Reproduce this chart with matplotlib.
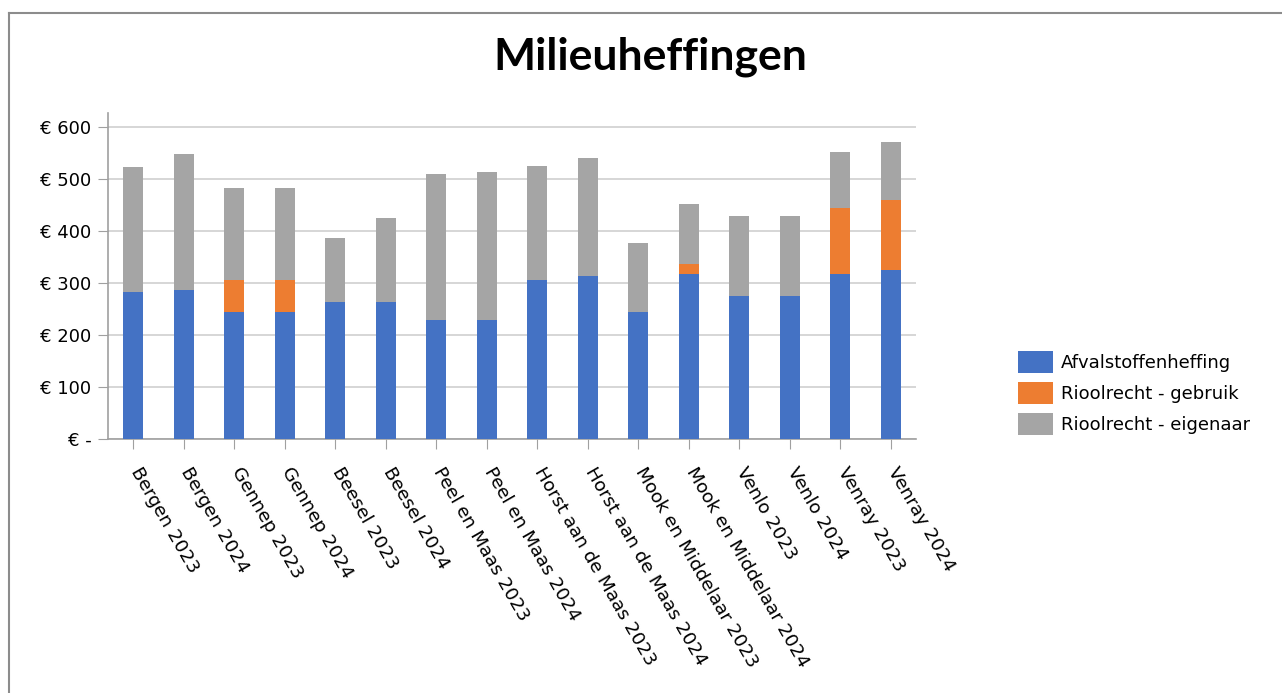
import matplotlib
matplotlib.use("Agg")
import matplotlib.pyplot as plt
import matplotlib.transforms as mtransforms
from matplotlib.lines import Line2D
import numpy as np

categories = [
    "Bergen 2023", "Bergen 2024", "Gennep 2023", "Gennep 2024",
    "Beesel 2023", "Beesel 2024", "Peel en Maas 2023", "Peel en Maas 2024",
    "Horst aan de Maas 2023", "Horst aan de Maas 2024",
    "Mook en Middelaar 2023", "Mook en Middelaar 2024",
    "Venlo 2023", "Venlo 2024", "Venray 2023", "Venray 2024",
]
afval = [282, 286, 244, 244, 263, 263, 229, 229, 305, 313, 244, 317, 274, 274, 317, 324]
riool_gebruik = [0, 0, 61, 61, 0, 0, 0, 0, 0, 0, 0, 19, 0, 0, 127, 135]
riool_eigenaar = [241, 261, 177, 177, 123, 161, 280, 284, 219, 226, 133, 115, 154, 154, 107, 111]
series_names = ["Afvalstoffenheffing", "Rioolrecht - gebruik", "Rioolrecht - eigenaar"]
colors = ["#4472C4", "#ED7D31", "#A5A5A5"]
yticks = [0, 100, 200, 300, 400, 500, 600]
ytick_labels = ["€ -", "€ 100", "€ 200", "€ 300", "€ 400", "€ 500", "€ 600"]

W, H = 1282, 693
fig = plt.figure(figsize=(W / 100, H / 100), dpi=100)
ax = fig.add_axes([108 / W, 1 - 439.3 / H, 808 / W, (439.3 - 113) / H])

x = np.arange(len(categories))
bottom = np.zeros(len(categories))
handles = []
for vals, name, c in zip([afval, riool_gebruik, riool_eigenaar], series_names, colors):
    b = ax.bar(x, vals, width=0.4, bottom=bottom, color=c, label=name, zorder=3)
    handles.append(b)
    bottom += np.array(vals)

ax.set_xlim(-0.5, len(categories) - 0.5)
ax.set_ylim(0, 626)
ax.set_yticks(yticks)
ax.set_yticklabels(ytick_labels, fontsize=13)
ax.yaxis.grid(True, color="#d0d0d0", linewidth=1.2, zorder=0)
ax.set_xticks(x)
ax.set_xticklabels([])

# rotated category labels, anchored just below each tick
label_trans = ax.get_xaxis_transform() + mtransforms.ScaledTranslation(
    0.09, -0.25, fig.dpi_scale_trans)
for xi, cat in zip(x, categories):
    ax.text(xi, 0, cat, transform=label_trans, rotation=-60,
            rotation_mode="anchor", ha="left", va="top", fontsize=13.3,
            clip_on=False)

ax.tick_params(axis="x", length=7, color="#a0a0a0")
ax.tick_params(axis="y", length=7, color="#a0a0a0", pad=5)
for s in ["top", "right"]:
    ax.spines[s].set_visible(False)
for s in ["left", "bottom"]:
    ax.spines[s].set_color("#a0a0a0")
    ax.spines[s].set_linewidth(1.2)

fig.text(650 / W, 1 - 57 / H, "Milieuheffingen", ha="center", va="center",
         fontsize=32, fontweight="bold", family="Lato")

fig.legend(handles=handles, labels=series_names, loc="upper left",
           bbox_to_anchor=(1002 / W, 1 - 335 / H), frameon=False,
           fontsize=13, handlelength=1.9, handleheight=1.5,
           labelspacing=0.5, handletextpad=0.45)

# outer chart border
fig.add_artist(Line2D([9 / W, 1], [1 - 13 / H, 1 - 13 / H], color="#8c8c8c",
                      linewidth=1.5, transform=fig.transFigure))
fig.add_artist(Line2D([9 / W, 9 / W], [0, 1 - 13 / H], color="#8c8c8c",
                      linewidth=1.5, transform=fig.transFigure))

fig.savefig("out.png", dpi=100)
